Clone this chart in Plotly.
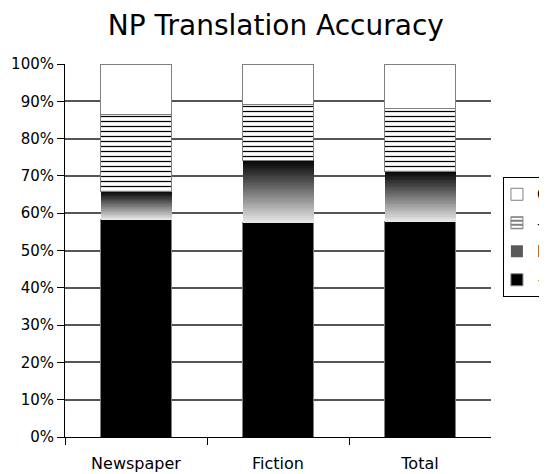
import plotly.graph_objects as go

categories = ["Newspaper", "Fiction", "Total"]
plus_vals = [58.3, 57.4, 57.7]      # "+" (black)
n_vals = [7.6, 16.8, 13.6]          # "N" (gradient)
minus_vals = [20.6, 14.9, 16.8]     # "-" (horizontal lines)
c_vals = [13.5, 10.9, 11.9]         # "C" (white)
y_ticks = [0, 10, 20, 30, 40, 50, 60, 70, 80, 90, 100]
y_tick_labels = [f"{v}%" for v in y_ticks]

FONT = "DejaVu Sans"
x_idx = list(range(len(categories)))
outline = dict(color="#808080", width=1)

fig = go.Figure()
fig.add_trace(go.Bar(x=x_idx, y=plus_vals, name="+", marker=dict(color="black", line=outline),
                     width=0.5, legendgroup="p", legendrank=4))
# legend entry for gradient series
fig.add_trace(go.Bar(x=[None], y=[None], name="N", marker=dict(color="#5a5a5a", line=dict(width=0)),
                     legendgroup="n", legendrank=3))
n_slices = 36
for i in range(n_slices):
    t = i / (n_slices - 1)
    g = int(round(232 - t * (232 - 8)))
    fig.add_trace(go.Bar(x=x_idx, y=[v / n_slices for v in n_vals], name="N", showlegend=False,
                         legendgroup="n", legendrank=3, width=0.5,
                         marker=dict(color=f"rgb({g},{g},{g})", line=dict(width=0))))
fig.add_trace(go.Bar(x=x_idx, y=minus_vals, name="-", width=0.5, legendgroup="m", legendrank=2,
                     marker=dict(color="white", line=outline,
                                 pattern=dict(shape="-", fgcolor="black", bgcolor="white",
                                              size=5, solidity=0.25, fillmode="replace"))))
fig.add_trace(go.Bar(x=x_idx, y=c_vals, name="C", width=0.5, legendgroup="c", legendrank=1,
                     marker=dict(color="white", line=outline)))

fig.update_layout(
    barmode="stack",
    width=539, height=466,
    margin=dict(l=57, r=56, t=56, b=37, autoexpand=False),
    paper_bgcolor="white", plot_bgcolor="white",
    font=dict(family=FONT, size=15, color="black"),
    title=dict(text="NP Translation Accuracy", font=dict(family=FONT, size=28, color="black"),
               x=0.497, xref="container", xanchor="center", y=0.9635, yanchor="middle"),
    showlegend=True,
    legend=dict(x=1.028, xanchor="left", y=0.697, yanchor="top",
                bordercolor="black", borderwidth=1, bgcolor="white",
                traceorder="grouped", tracegroupgap=6, indentation=-7,
                font=dict(family=FONT, size=15, color="black")),
    bargap=0.5,
)
fig.update_xaxes(
    range=[-0.5, 2.5], tickmode="array", tickvals=x_idx, ticktext=categories,
    ticks="", showgrid=False, showline=True, linecolor="black", linewidth=1,
    zeroline=False, tickfont=dict(size=16), ticklabelstandoff=12,
    minor=dict(tickmode="array", tickvals=[-0.5, 0.5, 1.5], ticks="outside",
               ticklen=7, tickcolor="black", showgrid=False),
)
fig.update_yaxes(
    range=[0, 100], tickmode="array", tickvals=y_ticks, ticktext=y_tick_labels,
    ticks="outside", ticklen=7, tickcolor="black",
    showline=True, linecolor="black", linewidth=1,
    showgrid=True, gridcolor="#555555", gridwidth=1.5, zeroline=False,
)

fig.write_html("out.html")
